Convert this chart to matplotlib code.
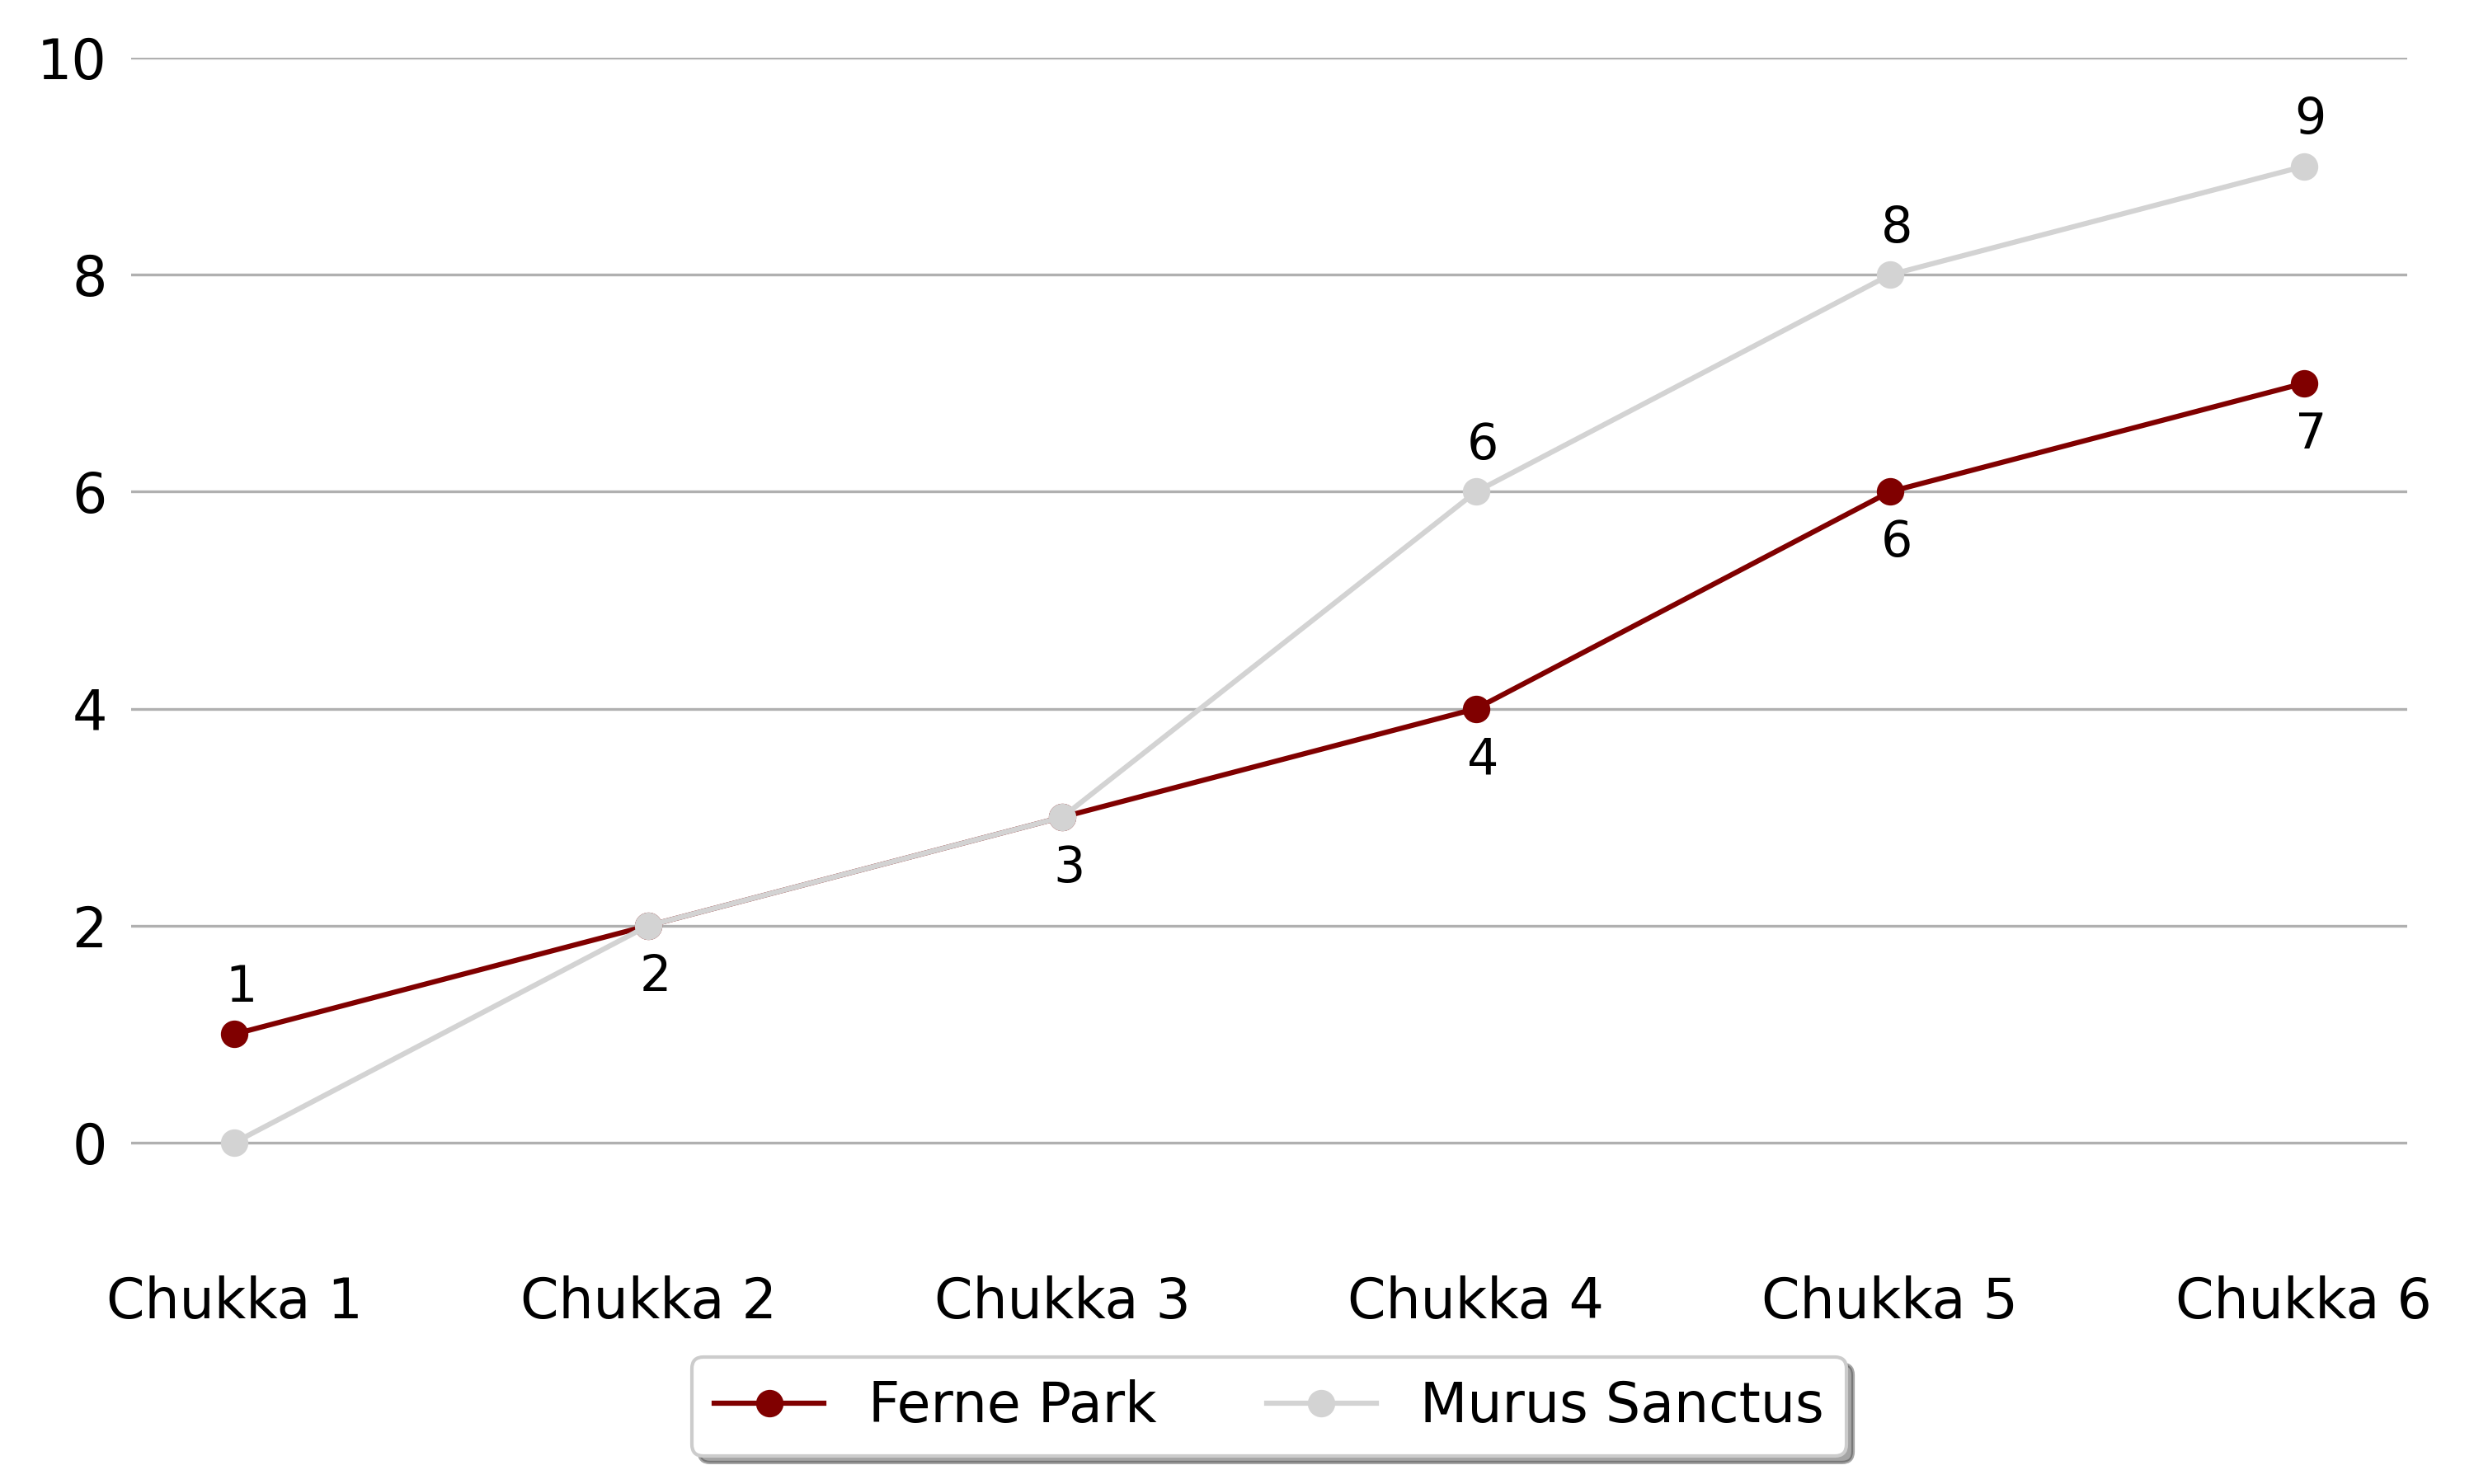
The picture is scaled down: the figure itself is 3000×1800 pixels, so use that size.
import matplotlib
matplotlib.use("Agg")
import matplotlib.pyplot as plt

# data
chukkas = ["Chukka 1", "Chukka 2", "Chukka 3", "Chukka 4", "Chukka 5", "Chukka 6"]
ferne_park = [1, 2, 3, 4, 6, 7]
murus_sanctus = [0, 2, 3, 6, 8, 9]
# where each label goes: +1 above, -1 below, 0 none
ferne_pos = [1, -1, -1, -1, -1, -1]
murus_pos = [0, 0, 0, 1, 1, 1]

plt.rcParams['font.family'] = ['DejaVu Sans']

fig, ax = plt.subplots(figsize=(10, 6), dpi=300)
fig.subplots_adjust(left=0.053, right=0.973, top=0.961, bottom=0.157)

x = list(range(len(chukkas)))
ax.plot(x, ferne_park, color='#800000', marker='o', markersize=7, linewidth=1.5,
        label='Ferne Park', zorder=3)
ax.plot(x, murus_sanctus, color='#d3d3d3', marker='o', markersize=7, linewidth=1.5,
        label='Murus Sanctus', zorder=4)

# 數值標籤
def put_labels(vals, pos):
    for xi, v, p in zip(x, vals, pos):
        if p == 0:
            continue
        dy = 13.5 if p > 0 else -15
        ax.annotate(str(v), (xi, v), xytext=(2, dy), textcoords='offset points',
                    ha='center', va='center', fontsize=14.5)

put_labels(ferne_park, ferne_pos)
put_labels(murus_sanctus, murus_pos)

ax.set_xlim(-0.25, 5.25)
ax.set_ylim(-1, 10)
ax.set_yticks([0, 2, 4, 6, 8, 10])
ax.set_xticks(x)
ax.set_xticklabels(chukkas)
ax.tick_params(axis='both', length=0, labelsize=16, pad=7)
ax.grid(axis='y', color='#b0b0b0', linewidth=0.8)
ax.set_axisbelow(True)
for s in ax.spines.values():
    s.set_visible(False)

leg = ax.legend(loc='upper center', bbox_to_anchor=(0.5, -0.066), ncol=2,
                fontsize=16, frameon=True, shadow=True, fancybox=True,
                handlelength=2.0, columnspacing=2.0)
leg.get_frame().set_edgecolor('#cccccc')

fig.savefig('out.png', dpi=300)
